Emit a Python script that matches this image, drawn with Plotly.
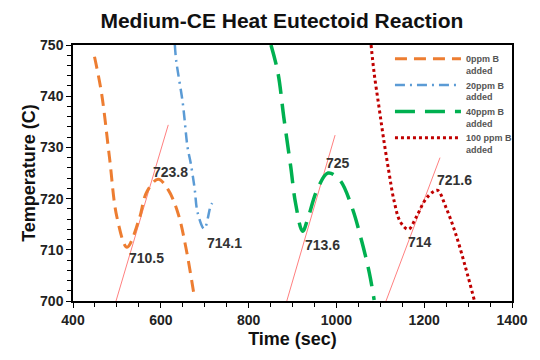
import plotly.graph_objects as go

# Data
t_0ppm = [449, 465, 483, 500, 523, 550, 568, 594, 617, 639, 657, 677]
T_0ppm = [747.7, 740.6, 728.1, 716.4, 710.5, 715.8, 721.3, 723.8, 721.7, 717.2, 710.5, 700.5]

t_20ppm = [632, 635, 650, 661, 668, 677, 684, 699, 713, 717]
T_20ppm = [750, 747, 738.7, 730, 727, 722, 717.2, 714.1, 718.4, 719.1]

t_40ppm = [851, 867, 880, 896, 907, 923, 936, 956, 981, 1008, 1035, 1057, 1075, 1086]
T_40ppm = [750, 744.5, 736, 726.2, 719.1, 713.6, 716.4, 721.7, 725, 723.6, 718.4, 711.9, 705.5, 700.2]

t_100ppm = [1079, 1086, 1097, 1108, 1120, 1131, 1146, 1164, 1182, 1202, 1220, 1231, 1249, 1271, 1294, 1314]
T_100ppm = [750, 744.5, 737.9, 731.4, 725, 719.7, 715.4, 714, 716.4, 719.7, 721.3, 721.6, 718.4, 713.3, 706.6, 700.2]

# Tangent construction lines (start/end)
tan1_t = [498, 617]
tan1_T = [700, 734.4]
tan2_t = [887, 997]
tan2_T = [700, 732.4]
tan3_t = [1113, 1236]
tan3_T = [700, 728]

# Point labels
label_text = ["710.5", "723.8", "714.1", "725", "713.6", "714", "721.6"]
label_t = [568, 623, 744, 1003, 968, 1191, 1269]
label_T = [708.4, 725.2, 711.3, 727.0, 711.0, 711.5, 723.6]

series_names = ["0ppm B<br>added", "20ppm B<br>added", "40ppm B<br>added", "100 ppm B<br>added"]

fig = go.Figure()

for tt, TT in [(tan1_t, tan1_T), (tan2_t, tan2_T), (tan3_t, tan3_T)]:
    fig.add_trace(go.Scatter(x=tt, y=TT, mode="lines", showlegend=False,
                             line=dict(color="#FF8080", width=1), hoverinfo="skip"))

fig.add_trace(go.Scatter(x=t_0ppm, y=T_0ppm, mode="lines", name=series_names[0],
                         line=dict(color="#ED7D31", width=3, dash="12px,7px", shape="spline")))
fig.add_trace(go.Scatter(x=t_20ppm, y=T_20ppm, mode="lines", name=series_names[1],
                         line=dict(color="#5B9BD5", width=2.5, dash="10px,5px,2px,5px", shape="spline")))
fig.add_trace(go.Scatter(x=t_40ppm, y=T_40ppm, mode="lines", name=series_names[2],
                         line=dict(color="#00B050", width=3.5, dash="20px,10px", shape="spline")))
fig.add_trace(go.Scatter(x=t_100ppm, y=T_100ppm, mode="lines", name=series_names[3],
                         line=dict(color="#C00000", width=3, dash="3px,3px", shape="spline")))

for txt, xx, yy in zip(label_text, label_t, label_T):
    fig.add_annotation(x=xx, y=yy, text="<b>" + txt + "</b>", showarrow=False,
                       font=dict(family="Liberation Sans", size=14, color="#333"))

fig.update_layout(
    width=540, height=360,
    margin=dict(l=73, r=20, t=45, b=59),
    paper_bgcolor="white", plot_bgcolor="white",
    title=dict(text="<b>Medium-CE Heat Eutectoid Reaction</b>", x=0.522, xanchor="center",
               y=0.942, yanchor="middle",
               font=dict(family="Liberation Sans", size=21, color="#111")),
    font=dict(family="Liberation Sans", color="#111"),
    legend=dict(x=0.722, y=0.995, xanchor="left", yanchor="top", bgcolor="rgba(0,0,0,0)",
                font=dict(size=9, color="#555", weight="bold"), itemwidth=66, tracegroupgap=0,
                valign="top"),
    xaxis=dict(range=[400, 1400], tickvals=[400, 600, 800, 1000, 1200, 1400],
               showgrid=False, zeroline=False, showline=True, linecolor="black", linewidth=1.5,
               mirror=True, ticks="outside", ticklen=5, tickcolor="black",
               minor=dict(dtick=50, ticks="outside", ticklen=4, tickcolor="black"),
               tickfont=dict(size=14, weight="bold", color="#222"),
               title=dict(text="<b>Time (sec)</b>", font=dict(size=18), standoff=6)),
    yaxis=dict(range=[700, 750], dtick=10,
               showgrid=False, zeroline=False, showline=True, linecolor="black", linewidth=1.5,
               mirror=True, ticks="outside", ticklen=5, tickcolor="black",
               minor=dict(dtick=2, ticks="outside", ticklen=4, tickcolor="black"),
               tickfont=dict(size=14, weight="bold", color="#222"),
               title=dict(text="<b>Temperature (C)</b>", font=dict(size=18), standoff=0)),
)

fig.write_html("out.html")
